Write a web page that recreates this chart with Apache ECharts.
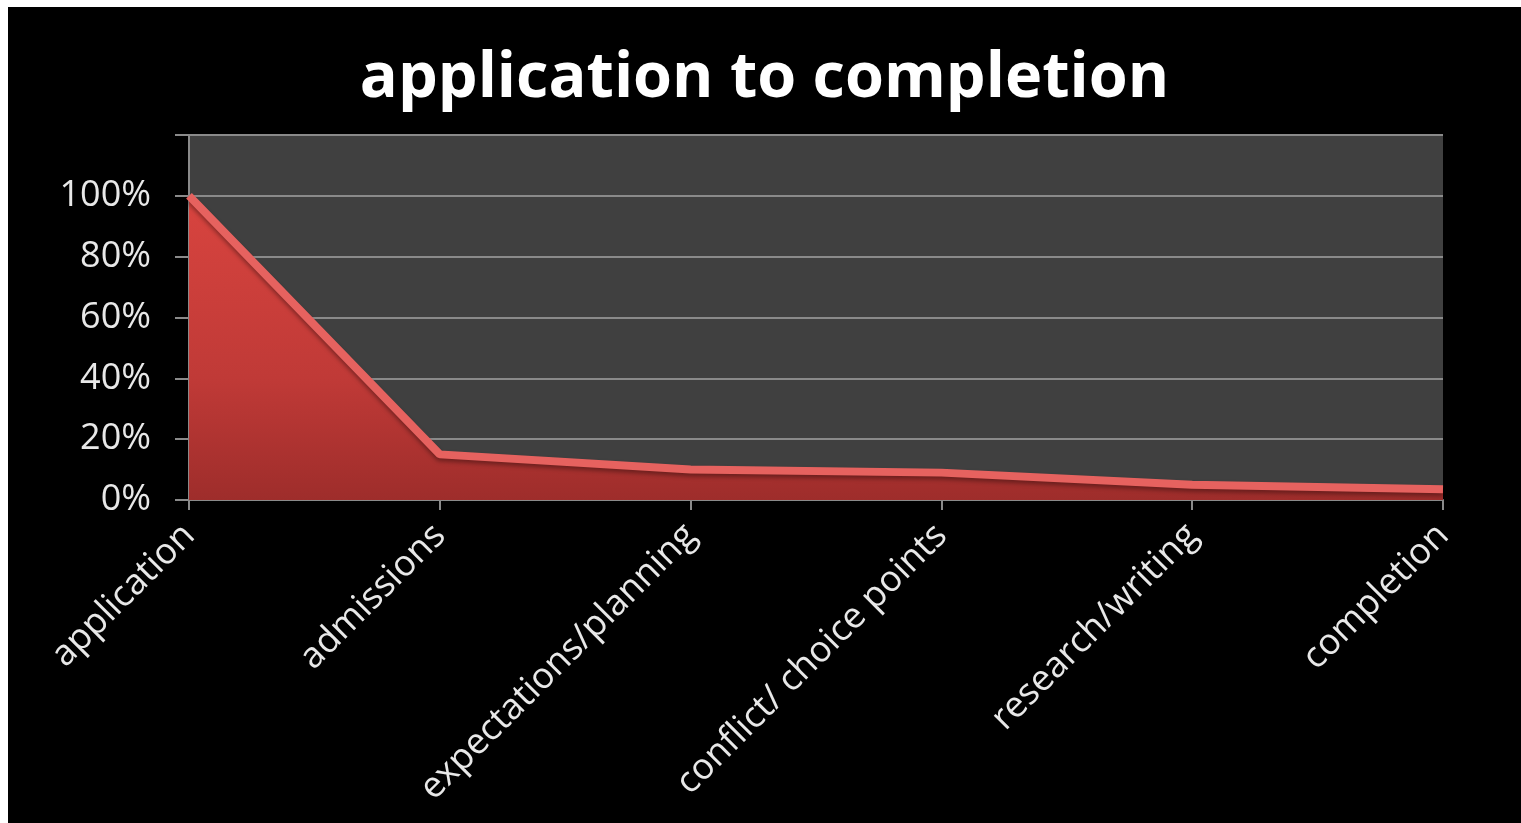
<!DOCTYPE html>
<html>
<head>
<meta charset="utf-8">
<script src="https://cdn.jsdelivr.net/npm/echarts@6/dist/echarts.min.js"></script>
<style>
html,body{margin:0;padding:0;background:#ffffff;width:1521px;height:823px;overflow:hidden;}
#chart{position:absolute;left:8px;top:7px;width:1513px;height:816px;background:#000000;}
</style>
</head>
<body>
<div id="chart"></div>
<script>
const titleText = 'application to completion';
const categories = ['application', 'admissions', 'expectations/planning', 'conflict/ choice points', 'research/writing', 'completion'];
const values = [100, 15, 10, 9, 5, 3.5];
const yTicks = [0, 20, 40, 60, 80, 100, 120];

const chart = echarts.init(document.getElementById('chart'), null, {renderer: 'canvas'});
chart.setOption({
  backgroundColor: '#000000',
  animation: false,
  title: {
    text: titleText,
    left: 'center',
    top: 36,
    textStyle: {color: '#ffffff', fontFamily: 'Open Sans', fontWeight: 'bold', fontSize: 63}
  },
  grid: {
    left: 181, right: 78, top: 128, bottom: 323,
    show: true, backgroundColor: '#404040', borderWidth: 0
  },
  xAxis: {
    type: 'category',
    data: categories,
    boundaryGap: false,
    axisLine: {show: true, lineStyle: {color: '#8a8a8a', width: 2}},
    axisTick: {show: true, length: 10, lineStyle: {color: '#8a8a8a', width: 2}},
    axisLabel: {
      color: '#e8e8e8', fontFamily: 'Open Sans', fontSize: 36,
      rotate: 45, margin: 30, interval: 0
    },
    splitLine: {show: false}
  },
  yAxis: {
    type: 'value',
    min: yTicks[0], max: yTicks[yTicks.length - 1], interval: 20,
    axisLine: {show: true, lineStyle: {color: '#8a8a8a', width: 2}},
    axisTick: {show: true, length: 14, lineStyle: {color: '#8a8a8a', width: 2}},
    axisLabel: {
      color: '#e8e8e8', fontFamily: 'Open Sans', fontSize: 36, margin: 38,
      formatter: function (v) { return v === 120 ? '' : v + '%'; }
    },
    splitLine: {show: true, lineStyle: {color: '#8a8a8a', width: 2}}
  },
  series: [{
    type: 'line',
    data: values,
    symbol: 'none',
    smooth: false,
    lineStyle: {color: '#e6625f', width: 8, shadowColor: 'rgba(0,0,0,0.35)', shadowBlur: 4, shadowOffsetY: 3},
    areaStyle: {
      opacity: 1,
      color: {
        type: 'linear', x: 0, y: 0, x2: 0, y2: 1,
        colorStops: [
          {offset: 0, color: '#d8443f'},
          {offset: 0.6, color: '#c03a37'},
          {offset: 1, color: '#9e2d2b'}
        ]
      }
    }
  }]
});
</script>
</body>
</html>
